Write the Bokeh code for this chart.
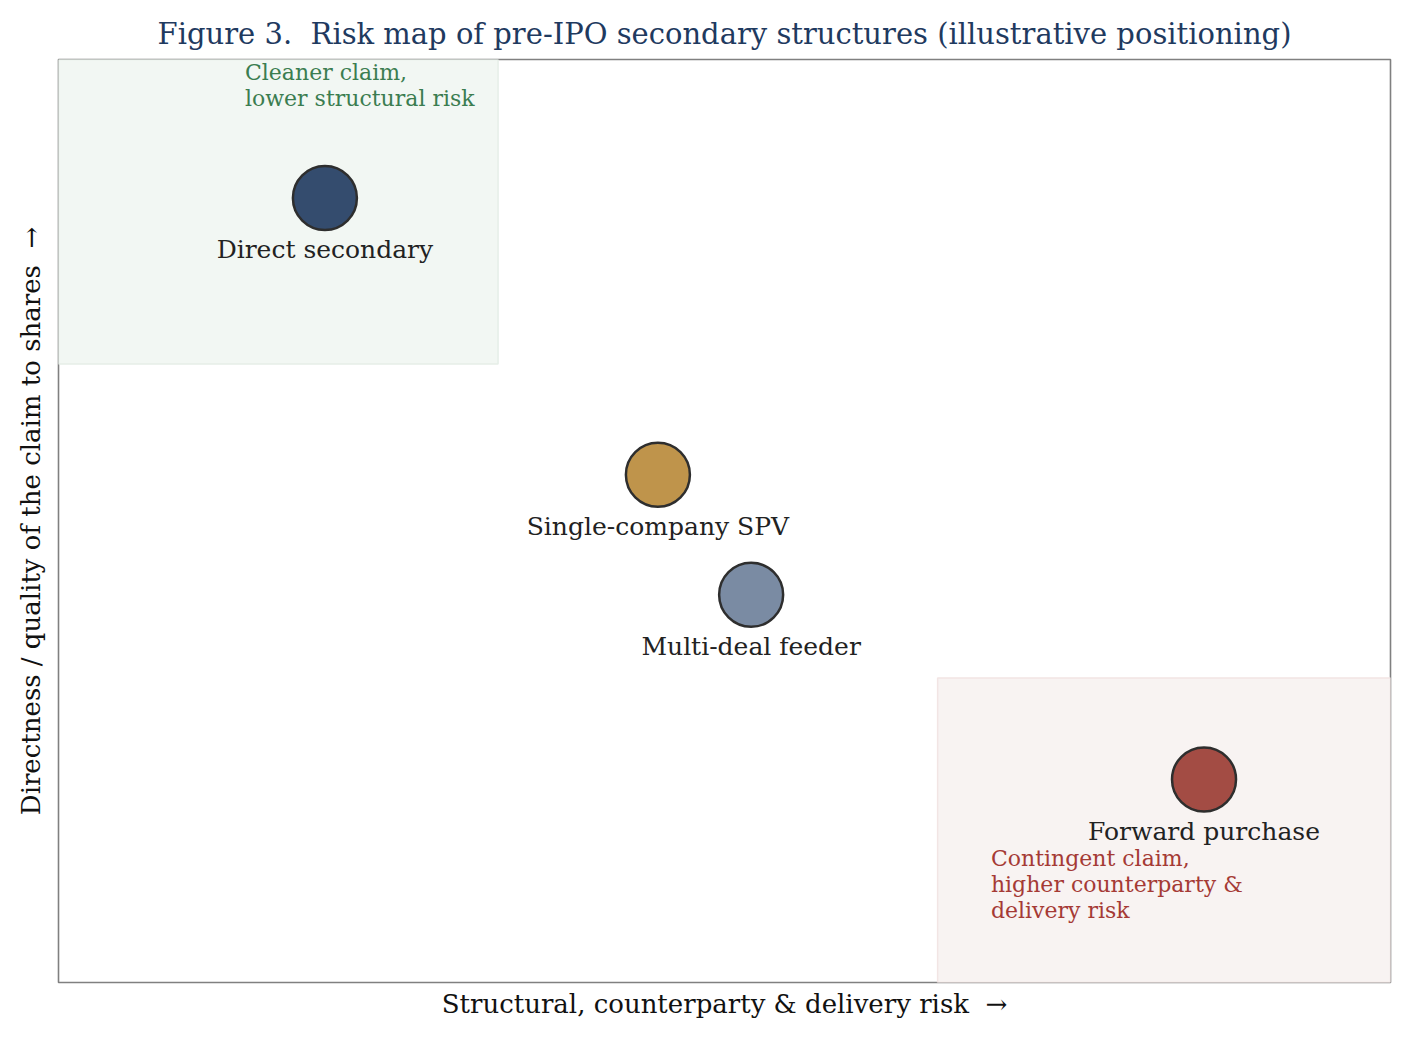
from bokeh.core.properties import value
from bokeh.embed import file_html
from bokeh.models import Range1d
from bokeh.plotting import figure
from bokeh.resources import INLINE

# structures and their (illustrative) positions on the map
names = ["Direct secondary", "Single-company SPV", "Multi-deal feeder", "Forward purchase"]
risk = [2.0, 4.5, 5.2, 8.6]
directness = [8.5, 5.5, 4.2, 2.2]
colors = ["#344c6e", "#bf944b", "#7a8ba3", "#a34c44"]

# shaded zones: cleaner claim (top left), contingent claim (bottom right)
zone_left = [0.0, 6.6]
zone_right = [3.3, 10.0]
zone_bottom = [6.7, 0.0]
zone_top = [10.0, 3.3]
zone_fill = ["#f2f7f3", "#f8f3f2"]
zone_line = ["#e6eee8", "#f2e5e4"]

notes = ["Cleaner claim,\nlower structural risk", "Contingent claim,\nhigher counterparty &\ndelivery risk"]
note_x = [1.4, 7.0]
note_y = [10.0, 1.48]
note_colors = ["#3b7d50", "#a53a35"]

FONT = "DejaVu Serif"
NB = "\u00a0 "  # keep the double spaces in svg text

p = figure(width=1402, height=1032, output_backend="svg", toolbar_location=None,
           x_range=Range1d(0, 10), y_range=Range1d(0, 10),
           title="Figure 3." + NB + "Risk map of pre-IPO secondary structures (illustrative positioning)",
           min_border_left=58, min_border_right=12, min_border_top=59, min_border_bottom=50)

p.title.text_font = FONT
p.title.text_font_size = "29px"
p.title.text_font_style = "normal"
p.title.text_color = "#1f3a5f"
p.title.align = "center"
p.title.standoff = 17

p.grid.visible = False
p.outline_line_color = "#808080"
p.outline_line_width = 1.6

for ax in (p.xaxis, p.yaxis):
    ax.ticker = []
    ax.axis_line_color = None
    ax.major_tick_line_color = None
    ax.minor_tick_line_color = None
    ax.axis_label_text_font = FONT
    ax.axis_label_text_font_size = "26px"
    ax.axis_label_text_font_style = "normal"
    ax.axis_label_text_color = "#111111"

p.xaxis.axis_label = "Structural, counterparty & delivery risk" + NB + "\u2192"
p.yaxis.axis_label = "Directness / quality of the claim to shares" + NB + "\u2192"
p.xaxis.axis_label_standoff = 6
p.yaxis.axis_label_standoff = 13

p.quad(left=zone_left, right=zone_right, bottom=zone_bottom, top=zone_top,
       fill_color=zone_fill, line_color=zone_line, line_width=1.5)

p.text(x=note_x, y=note_y, text=notes, text_color=note_colors,
       text_font=value(FONT), text_font_size="22px", text_baseline="top",
       text_align="left", text_line_height=1.05)

p.scatter(x=risk, y=directness, size=64, fill_color=colors,
          line_color="#2e2e2e", line_width=2.5)

p.text(x=risk, y=directness, text=names, text_color="#222222",
       text_font=value(FONT), text_font_size="25px", text_baseline="middle",
       text_align="center", y_offset=52)

open("out.html", "w").write(file_html(p, INLINE))
